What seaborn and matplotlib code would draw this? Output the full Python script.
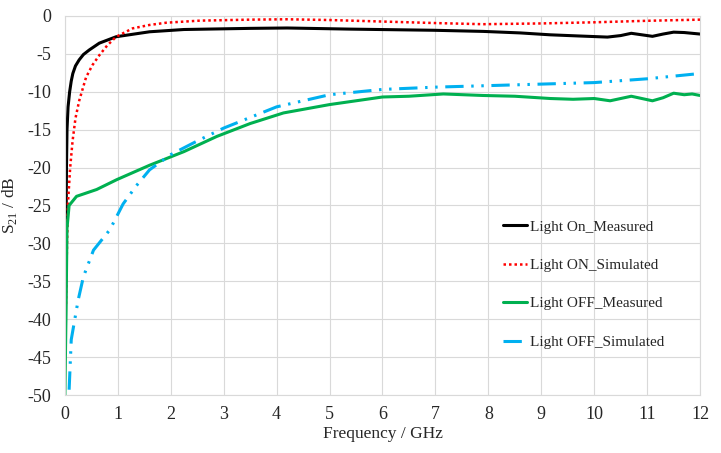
import matplotlib
matplotlib.use("Agg")
import matplotlib.pyplot as plt
import pandas as pd
import seaborn as sns

# Light On, measured
on_meas_f = [0.01, 0.02, 0.03, 0.04, 0.06, 0.09, 0.12, 0.15, 0.2, 0.27, 0.35, 0.46,
             0.65, 0.97, 1.6, 2.25, 3.5, 4.2, 5.4, 6.96, 7.9, 8.6, 9.17, 9.7, 10.25,
             10.5, 10.7, 10.9, 11.1, 11.3, 11.5, 11.7, 11.85, 12.0]
on_meas_db = [-42, -30, -20, -15, -12, -10.0, -8.6, -7.6, -6.6, -5.8, -5.1, -4.5,
              -3.6, -2.75, -2.1, -1.8, -1.65, -1.6, -1.75, -1.9, -2.05, -2.25, -2.5,
              -2.65, -2.8, -2.6, -2.3, -2.5, -2.7, -2.4, -2.15, -2.2, -2.3, -2.4]

# Light ON, simulated
on_sim_f = [0.02, 0.04, 0.06, 0.1, 0.145, 0.2, 0.27, 0.4, 0.52, 0.65, 0.8, 0.97, 1.28,
            1.6, 1.92, 2.55, 3.5, 4.2, 5.0, 6.0, 7.0, 7.9, 9.0, 10.0, 11.0, 12.0]
on_sim_db = [-38, -30, -24.5, -20, -16.5, -13.5, -11.2, -8.1, -6.5, -5.2, -3.9, -2.75,
             -1.65, -1.2, -0.9, -0.63, -0.5, -0.45, -0.55, -0.75, -0.95, -1.1, -1.0,
             -0.85, -0.65, -0.5]

# Light OFF, measured
off_meas_f = [0.0, 0.02, 0.04, 0.08, 0.22, 0.6, 0.98, 1.6, 2.25, 2.87, 3.5, 4.13, 5.0,
              6.0, 6.5, 7.15, 7.9, 8.5, 9.17, 9.6, 10.0, 10.3, 10.7, 10.9, 11.1, 11.3,
              11.5, 11.7, 11.85, 12.0]
off_meas_db = [-50, -40, -28, -25, -23.8, -22.9, -21.6, -19.7, -17.9, -15.9, -14.2,
               -12.8, -11.7, -10.7, -10.6, -10.3, -10.5, -10.6, -10.9, -11.0, -10.9,
               -11.2, -10.6, -10.9, -11.2, -10.8, -10.2, -10.4, -10.3, -10.5]

# Light OFF, simulated
off_sim_f = [0.08, 0.12, 0.25, 0.35, 0.54, 0.85, 1.1, 1.35, 1.6, 2.0, 2.5, 3.0, 3.5,
             4.0, 5.0, 6.0, 7.0, 8.0, 9.0, 10.0, 11.0, 12.0]
off_sim_db = [-49.3, -42.7, -37.5, -34.4, -30.9, -28.2, -24.8, -22.4, -20.3, -18.3,
              -16.5, -14.8, -13.4, -12.0, -10.4, -9.7, -9.4, -9.2, -9.0, -8.8, -8.3,
              -7.6]

series = [
    ("Light On_Measured", on_meas_f, on_meas_db),
    ("Light ON_Simulated", on_sim_f, on_sim_db),
    ("Light OFF_Measured", off_meas_f, off_meas_db),
    ("Light OFF_Simulated", off_sim_f, off_sim_db),
]
df = pd.concat(
    [pd.DataFrame({"f": f, "db": d, "series": name}) for name, f, d in series],
    ignore_index=True,
)

sns.set_style("whitegrid", {"grid.color": "#d9d9d9", "axes.edgecolor": "#d9d9d9"})
plt.rcParams["font.family"] = ["Liberation Serif", "DejaVu Serif"]
plt.rcParams["mathtext.fontset"] = "custom"
plt.rcParams["mathtext.rm"] = "Liberation Serif"
plt.rcParams["axes.unicode_minus"] = False

palette = {
    "Light On_Measured": "#000000",
    "Light ON_Simulated": "#ff0000",
    "Light OFF_Measured": "#00b050",
    "Light OFF_Simulated": "#00b0f0",
}
dashes = {
    "Light On_Measured": "",
    "Light ON_Simulated": (1, 1.2),
    "Light OFF_Measured": "",
    "Light OFF_Simulated": (6, 2.5, 0.8, 2.5, 0.8, 2.5),
}

fig = plt.figure(figsize=(7.21, 4.53), dpi=100)
ax = fig.add_axes([0.090, 0.128, 0.881, 0.837])
sns.lineplot(data=df, x="f", y="db", hue="series", style="series",
             palette=palette, dashes=dashes, sort=False, estimator=None,
             linewidth=2.2, ax=ax)
for line in ax.lines:
    if line.get_color() == "#ff0000":
        line.set_linewidth(1.8)

ax.set_xlim(0, 12)
ax.set_ylim(-50, 0)
ax.set_xticks(range(0, 13))
ax.set_yticks(range(-50, 1, 5))
ax.tick_params(axis="both", length=0, labelsize=13)
ax.tick_params(axis="y", pad=10)
ax.tick_params(axis="x", pad=8)
ax.set_xlabel("Frequency / GHz", fontsize=12.5, labelpad=2)
ax.set_ylabel(r"S$_{\mathregular{21}}$ / dB", fontsize=12.5, labelpad=6)

handles, labels = ax.get_legend_handles_labels()
ax.legend(handles, labels, loc="upper left", bbox_to_anchor=(0.68, 0.478),
          frameon=False, fontsize=11, labelspacing=1.62, handlelength=1.6,
          handletextpad=0.2, borderaxespad=0)

fig.savefig("out.png", dpi=100)
